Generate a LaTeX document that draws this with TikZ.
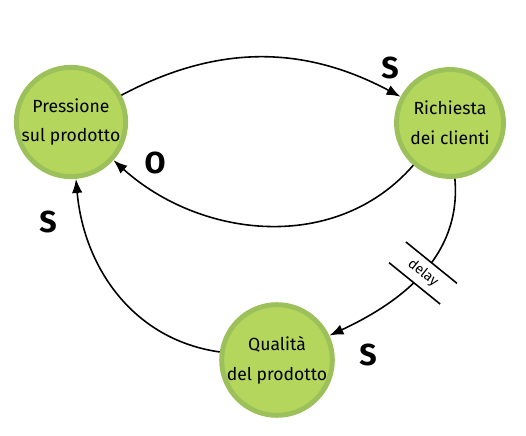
\documentclass[tikz,border=0pt]{standalone}
\usepackage{fontspec}
\setmainfont{Fira Sans}
\usetikzlibrary{arrows.meta}
\definecolor{anello}{HTML}{9CC05A}
\definecolor{riempi}{HTML}{B4D65C}
\begin{document}
\begin{tikzpicture}[x=0.02cm,y=-0.02cm]
% Definizione degli stili
\tikzset{
  stato/.style={circle, draw=anello, line width=2.8pt, fill=riempi, inner sep=0pt, minimum size=2.14cm, align=center, font=\fontsize{10}{17}\selectfont},
  freccia/.style={line width=0.9pt, -{Latex[length=8pt,width=6pt]}},
  segno/.style={font=\LARGE\bfseries},
  ritardo/.style={rotate=-39, fill=white, minimum width=1.3cm, minimum height=0.52cm, inner sep=0pt, font=\footnotesize}
}
\useasboundingbox (0,0) rectangle (526,435);

% Stati
\node[stato] (pressione) at (71,122) {Pressione\\sul prodotto};
\node[stato] (richiesta) at (450,123) {Richiesta\\dei clienti};
\node[stato] (qualita) at (277,360) {Qualità\\del prodotto};

% Collegamenti
\draw[freccia] (pressione) to[out=28, in=152] (richiesta);
\draw[freccia] (richiesta) to[out=229, in=318] (pressione);
\draw[freccia] (richiesta) to[out=275, in=25] (qualita);
\draw[freccia] (qualita) to[out=172, in=275] (pressione);

% Segni dei legami
\node[segno] (s1) at (390,68) {S};
\node[segno] (o1) at (155,163) {O};
\node[segno] (s2) at (48,222) {S};
\node[segno] (s3) at (368,355) {S};

% Ritardo
\node[ritardo] (delay) at (423,273) {delay};
\draw[line width=0.9pt] (delay.north west) -- (delay.north east);
\draw[line width=0.9pt] (delay.south west) -- (delay.south east);

\end{tikzpicture}
\end{document}
